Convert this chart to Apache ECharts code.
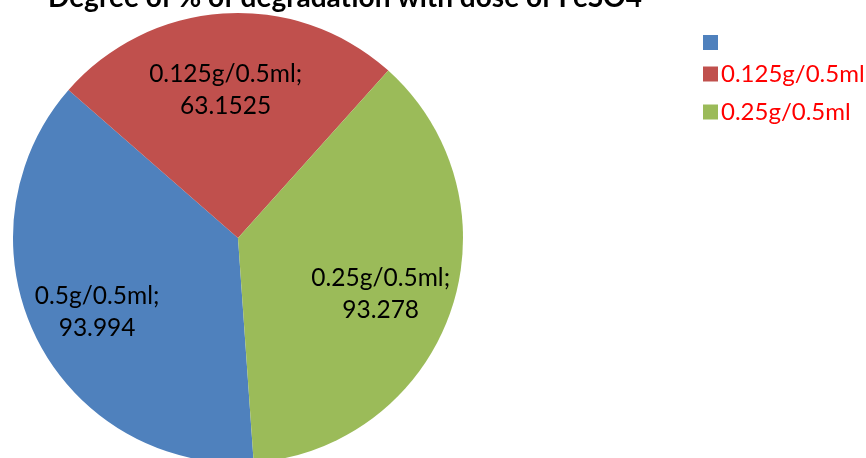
<!DOCTYPE html>
<html>
<head>
<meta charset="utf-8">
<script src="https://cdn.jsdelivr.net/npm/echarts@6/dist/echarts.min.js"></script>
<style>
html,body{margin:0;padding:0;background:#fff;}
#chart{width:866px;height:458px;}
</style>
</head>
<body>
<div id="chart"></div>
<script>
const titleText = 'Degree of % of degradation with dose of FeSO4';
const categories = ['0.5g/0.5ml', '0.125g/0.5ml', '0.25g/0.5ml'];
const legendLabels = ['', '0.125g/0.5ml', '0.25g/0.5ml'];
const values = [93.994, 63.1525, 93.278];
const colors = ['#4F81BD', '#C0504D', '#9BBB59'];

const chart = echarts.init(document.getElementById('chart'), null, {renderer: 'canvas'});
const data = categories.map((c, i) => ({name: c, value: values[i], itemStyle: {color: colors[i]}}));
const font = 'Lato, "Open Sans", sans-serif';

chart.setOption({
  animation: false,
  title: {
    text: titleText,
    left: 340,
    textAlign: 'center',
    top: -21,
    textStyle: {fontFamily: font, fontWeight: 'bold', fontSize: 28, color: '#000'}
  },
  legend: {
    orient: 'vertical',
    left: 698,
    top: 30,
    itemWidth: 15,
    itemHeight: 15,
    itemGap: 10,
    icon: 'rect',
    data: categories,
    formatter: function (name) { return legendLabels[categories.indexOf(name)]; },
    textStyle: {fontFamily: font, fontSize: 24, lineHeight: 24, color: '#FF0000', padding: [2, 0, 2, -2]}
  },
  series: [
    {
      type: 'pie',
      center: [238, 238],
      radius: [0, 225],
      startAngle: 274,
      clockwise: true,
      data: data,
      label: {show: false},
      labelLine: {show: false},
      itemStyle: {borderWidth: 0},
      emphasis: {disabled: true}
    },
    {
      type: 'pie',
      center: [238, 238],
      radius: [70, 232],
      startAngle: 274,
      clockwise: true,
      silent: true,
      data: categories.map((c, i) => ({name: c, value: values[i], itemStyle: {color: 'rgba(0,0,0,0)'}})),
      label: {
        show: true,
        position: 'inside',
        fontFamily: font,
        fontSize: 24.5,
        lineHeight: 32,
        color: '#000',
        align: 'center',
        offset: [-3, 6],
        formatter: function (p) { return p.name + ';\n' + p.value; }
      },
      labelLine: {show: false},
      emphasis: {disabled: true}
    }
  ]
});
</script>
</body>
</html>
